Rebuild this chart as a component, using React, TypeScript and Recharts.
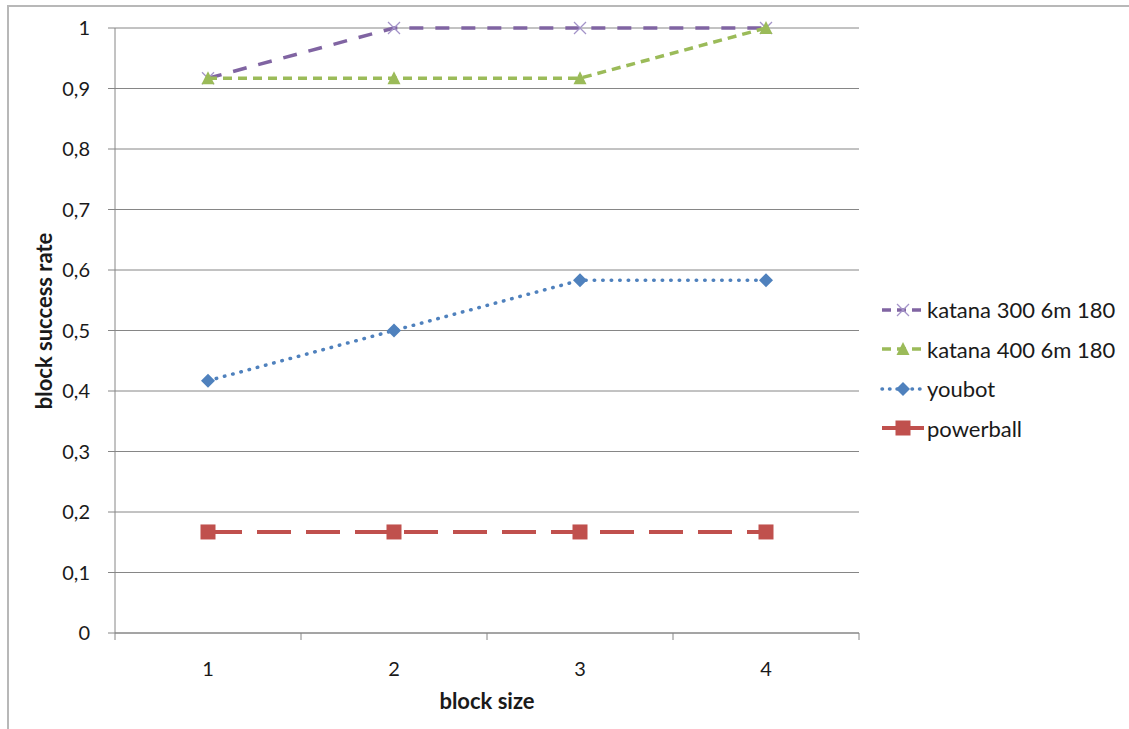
import { LineChart, Line, XAxis, YAxis, CartesianGrid } from "recharts";

// block size per run and the success rate of each arm
const blockSizes = [1, 2, 3, 4];
const katana300 = [0.917, 1, 1, 1];
const katana400 = [0.917, 0.917, 0.917, 1];
const youbot = [0.417, 0.5, 0.583, 0.583];
const powerball = [0.167, 0.167, 0.167, 0.167];

const yTicks = [0, 0.1, 0.2, 0.3, 0.4, 0.5, 0.6, 0.7, 0.8, 0.9, 1];
// half steps are the category borders (tick marks), whole steps carry the labels
const xTicks = [0.5, 1, 1.5, 2, 2.5, 3, 3.5, 4, 4.5];

const data = blockSizes.map((size, i) => ({
  size,
  katana300: katana300[i],
  katana400: katana400[i],
  youbot: youbot[i],
  powerball: powerball[i],
}));

const FONT = "Lato, 'Open Sans', sans-serif";
const AXIS = "#868686";
const TEXT = "#1a1a1a";

type Marker = "cross" | "triangle" | "diamond" | "square";

const series: {
  key: string;
  name: string;
  color: string;
  dash: string;
  legendDash?: string;
  width: number;
  cap: "butt" | "round";
  marker: Marker;
}[] = [
  { key: "katana300", name: "katana 300 6m 180", color: "#8064A2", dash: "14 12", legendDash: "9 6", width: 3.5, cap: "butt", marker: "cross" },
  { key: "katana400", name: "katana 400 6m 180", color: "#9BBB59", dash: "9 6", legendDash: "9 6", width: 3.5, cap: "butt", marker: "triangle" },
  { key: "youbot", name: "youbot", color: "#4F81BD", dash: "0.5 8", legendDash: "0.5 7", width: 3.5, cap: "round", marker: "diamond" },
  { key: "powerball", name: "powerball", color: "#C0504D", dash: "34 15", width: 4, cap: "butt", marker: "square" },
];

function MarkerShape({ cx, cy, marker, color }: { cx: number; cy: number; marker: Marker; color: string }) {
  if (marker === "cross") {
    return (
      <g stroke="#A393C8" strokeWidth={1.3}>
        <line x1={cx - 6} y1={cy - 6} x2={cx + 6} y2={cy + 6} />
        <line x1={cx - 6} y1={cy + 6} x2={cx + 6} y2={cy - 6} />
      </g>
    );
  }
  if (marker === "triangle") {
    return <polygon points={`${cx},${cy - 7} ${cx + 6.5},${cy + 6} ${cx - 6.5},${cy + 6}`} fill={color} />;
  }
  if (marker === "diamond") {
    return <polygon points={`${cx},${cy - 7} ${cx + 7},${cy} ${cx},${cy + 7} ${cx - 7},${cy}`} fill={color} />;
  }
  return <rect x={cx - 7.5} y={cy - 7.5} width={15} height={15} fill={color} />;
}

function yFormat(v: number) {
  if (v === 0 || v === 1) return String(v);
  return v.toFixed(1).replace(".", ",");
}

function XTick(props: any) {
  const { x, y, payload } = props;
  const v = payload.value as number;
  if (v % 1 !== 0) {
    return <line x1={x} y1={y - 7} x2={x} y2={y} stroke={AXIS} strokeWidth={1} />;
  }
  return (
    <text x={x} y={y + 28} textAnchor="middle" dominantBaseline="central" fontSize={20} fill={TEXT} fontFamily={FONT}>
      {v}
    </text>
  );
}

function LegendBox() {
  return (
    <div style={{ position: "absolute", left: 880, top: 290, fontFamily: FONT, fontSize: 22, color: TEXT }}>
      {series.map((s) => (
        <div key={s.key} style={{ display: "flex", alignItems: "center", height: 39.5, whiteSpace: "nowrap" }}>
          <svg width={46} height={20} style={{ marginRight: 1 }}>
            <line
              x1={2}
              y1={10}
              x2={44}
              y2={10}
              stroke={s.color}
              strokeWidth={s.width}
              strokeDasharray={s.legendDash}
              strokeLinecap={s.cap}
            />
            <MarkerShape cx={23} cy={10} marker={s.marker} color={s.color} />
          </svg>
          <span>{s.name}</span>
        </div>
      ))}
    </div>
  );
}

export default function App() {
  return (
    <div style={{ position: "absolute", left: 0, top: 0, width: 1129, height: 729, background: "#fff", overflow: "hidden" }}>
      <div
        style={{
          position: "absolute",
          left: 7,
          top: 5,
          width: 1130,
          height: 730,
          borderTop: "2px solid #b8b8b8",
          borderLeft: "2px solid #b8b8b8",
        }}
      />
      <LineChart
        width={1129}
        height={729}
        data={data}
        margin={{ top: 28, right: 270, bottom: 36, left: 0 }}
        style={{ position: "absolute", left: 0, top: 0 }}
      >
        <CartesianGrid vertical={false} stroke={AXIS} strokeWidth={1} />
        <XAxis
          dataKey="size"
          type="number"
          domain={[0.5, 4.5]}
          ticks={xTicks}
          interval={0}
          height={60}
          tickLine={false}
          tickSize={7}
          tickMargin={0}
          stroke={AXIS}
          tick={<XTick />}
          label={{
            content: () => (
              <text x={487} y={700} textAnchor="middle" dominantBaseline="central" fontSize={22} fontWeight="bold" fill={TEXT} fontFamily={FONT}>
                block size
              </text>
            ),
          }}
        />
        <YAxis
          domain={[0, 1]}
          ticks={yTicks}
          interval={0}
          width={115}
          tickSize={7}
          tickMargin={18}
          stroke={AXIS}
          tickFormatter={yFormat}
          tick={{ fontSize: 20, fill: TEXT, fontFamily: FONT }}
          label={{
            content: () => (
              <text
                x={43}
                y={321}
                transform="rotate(-90 43 321)"
                textAnchor="middle"
                dominantBaseline="central"
                fontSize={22}
                fontWeight="bold"
                fill={TEXT}
                fontFamily={FONT}
              >
                block success rate
              </text>
            ),
          }}
        />
        {series.map((s) => (
          <Line
            key={s.key}
            dataKey={s.key}
            name={s.name}
            stroke={s.color}
            strokeWidth={s.width}
            strokeDasharray={s.dash}
            strokeLinecap={s.cap}
            type="linear"
            isAnimationActive={false}
            activeDot={false}
            dot={(p: any) => <MarkerShape key={`${s.key}-${p.index}`} cx={p.cx} cy={p.cy} marker={s.marker} color={s.color} />}
          />
        ))}
      </LineChart>
      <LegendBox />
    </div>
  );
}
